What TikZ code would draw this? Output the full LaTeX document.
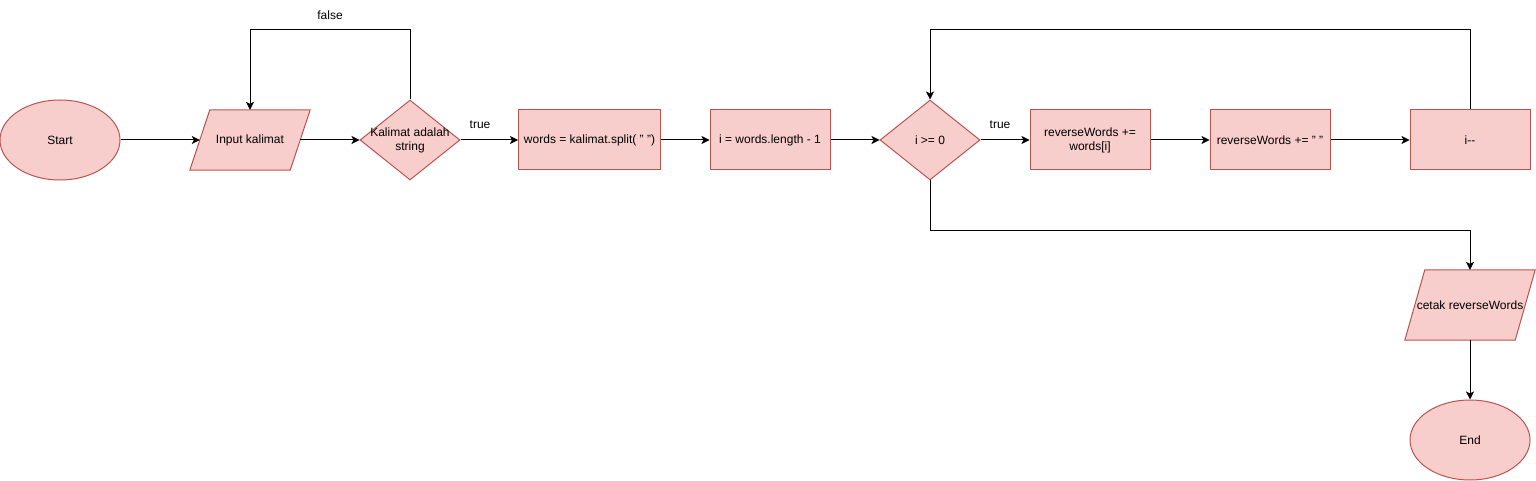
\documentclass[tikz,border=0pt]{standalone}
\usepackage{fontspec}
\setmainfont{Liberation Sans}
\usetikzlibrary{shapes.geometric,arrows.meta,backgrounds}
\definecolor{fillc}{HTML}{F8CECC}
\definecolor{linec}{HTML}{B85450}
\begin{document}
\begin{tikzpicture}[x=1pt,y=-1pt,
 font=\fontsize{12}{14}\selectfont,
 base/.style={fill=fillc,draw=linec,line width=1pt,inner sep=0pt,align=center},
 procbox/.style={base,rectangle,minimum width=120pt,minimum height=60pt},
 termin/.style={base,ellipse,minimum width=120pt,minimum height=80pt},
 decis/.style={base,diamond,minimum width=100pt,minimum height=80pt},
 iobox/.style={rectangle,minimum width=100pt,minimum height=60pt,inner sep=0pt,align=center},
 para/.style={fill=fillc,draw=linec,line width=1pt},
 arr/.style={draw=black,line width=1pt,-{Stealth[length=8pt,width=8pt,inset=2pt]}},
 lbl/.style={inner sep=0pt},
]
\useasboundingbox (0,0) rectangle (1536,481);

\node[termin] (start) at (60,140) {Start};
\node[iobox] (in) at (250,140) {Input kalimat};
\node[decis, label={[align=center]center:Kalimat adalah\\string}] (d1) at (410,140) {};
\node[procbox, minimum width=142pt] (split) at (589.5,140) {words = kalimat.split( " ")};
\node[procbox] (init) at (770,140) {i = words.length - 1};
\node[decis, label={center:i >= 0}] (d2) at (930,140) {};
\node[procbox] (rw1) at (1090,140) {reverseWords +=\\words[i]};
\node[procbox] (rw2) at (1270,140) {reverseWords += " "};
\node[procbox] (dec) at (1470,140) {i-{}-};
\node[iobox, minimum width=110pt, minimum height=70pt] (out) at (1470,305) {cetak reverseWords};
\node[termin] (end) at (1470,440) {End};

\begin{scope}[on background layer]
\filldraw[para] ([xshift=10pt]in.north west) -- ([xshift=10pt]in.north east) -- ([xshift=-10pt]in.south east) -- ([xshift=-10pt]in.south west) -- cycle;
\filldraw[para] ([xshift=10pt]out.north west) -- ([xshift=10pt]out.north east) -- ([xshift=-10pt]out.south east) -- ([xshift=-10pt]out.south west) -- cycle;
\end{scope}

\draw[arr] (start) -- (in);
\draw[arr] (in) -- (d1);
\draw[arr] (d1.north) -- ++(0,-70) -| (in.north);
\node[lbl] (lfalse) at (330,15) {false};
\draw[arr] (d1) -- (split);
\node[lbl] (ltrue1) at (480,125) {true};
\draw[arr] (split) -- (init);
\draw[arr] (init) -- (d2);
\draw[arr] (d2) -- (rw1);
\node[lbl] (ltrue2) at (1000,125) {true};
\draw[arr] (rw1) -- (rw2);
\draw[arr] (rw2) -- (dec);
\draw[arr] (dec.north) -- ++(0,-80) -| (d2.north);
\draw[arr] (d2.south) -- ++(0,50) -| (out.north);
\draw[arr] (out) -- (end);
\end{tikzpicture}
\end{document}
